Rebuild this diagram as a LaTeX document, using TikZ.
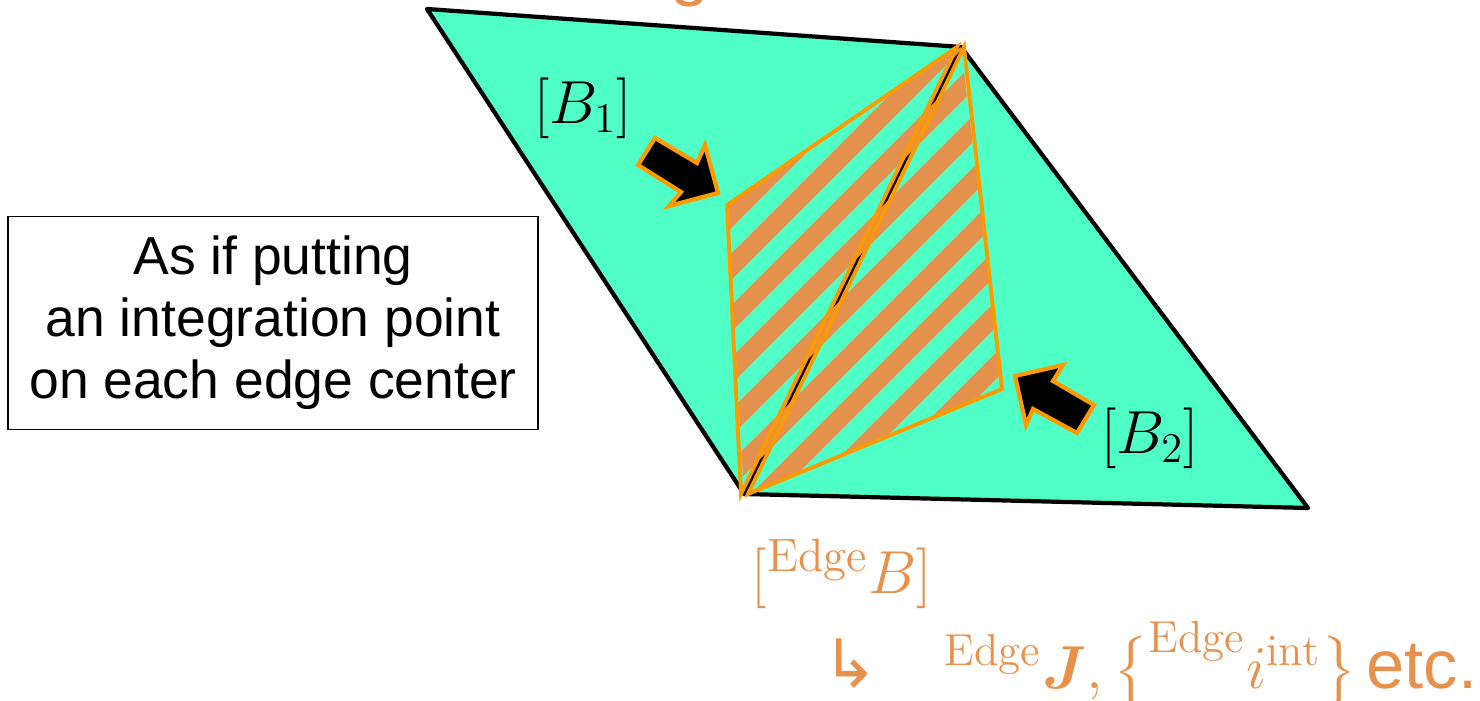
\documentclass[tikz,border=0pt]{standalone}
\usepackage{amsmath}
\usepackage{fontspec}
\newfontfamily\arialfont{Liberation Sans}
\newfontfamily\symfont{DejaVu Sans}
\usetikzlibrary{positioning,calc}
\definecolor{cellgreen}{RGB}{80,255,198}
\definecolor{lineorange}{RGB}{255,153,0}
\definecolor{hatchorange}{RGB}{227,145,76}
\definecolor{textorange}{RGB}{232,145,76}
\tikzset{
    cellline/.style={draw=black, line width=1.2pt, line join=round},
    domainline/.style={draw=lineorange, line width=1.1pt},
    hatchline/.style={draw=hatchorange, line width=5.3pt},
    blockarrow/.style={fill=black, draw=lineorange, line width=1.2pt},
    mathlabel/.style={font=\fontsize{18}{21}\selectfont, inner sep=0pt},
    notebox/.style={draw, line width=0.5pt, align=center,
        font=\arialfont\fontsize{15.2}{17.6}\selectfont,
        minimum width=5.3cm, minimum height=2.13cm}
}

\begin{document}
\begin{tikzpicture}[x=0.01cm, y=-0.01cm]
\useasboundingbox (0,0) rectangle (1480,701);
% element and its corners
\coordinate (tl) at (427,9);
\coordinate (tr) at (961,47);
\coordinate (br) at (1308,508);
\coordinate (bl) at (744,494);
\coordinate (b1) at (727,205);
\coordinate (b2) at (1002,389);
\fill[cellgreen] (tl) -- (tr) -- (br) -- (bl) -- cycle;
\draw[cellline] (tl) -- (tr) -- (br) -- (bl) -- cycle (tr) -- (bl);
% hatched edge domain
\begin{scope}
\clip (tr) -- (b1) -- (bl) -- (b2) -- cycle;
\foreach \s in {894,946,...,1414}
    \draw[hatchline] (\s,0) -- (\s-700,700);
\end{scope}
\draw[domainline] ($(tr)+(-4,0)$) -- (b1) -- ($(bl)+(-3,0)$) -- cycle;
\draw[domainline] ($(tr)+(3,0)$) -- (b2) -- ($(bl)+(4,0)$) -- cycle;
% block arrows
\draw[blockarrow] (655,138) -- (697,163) -- (705,145) -- (718,193) -- (669,206) -- (681,192) -- (638,165) -- cycle;
\draw[blockarrow] (1015,376) -- (1063,365) -- (1053,381) -- (1094,405) -- (1077,433) -- (1033,409) -- (1026,425) -- cycle;
% labels
\node[mathlabel] (lb1) at (583,108) {$[B_1]$};
\node[mathlabel] (lb2) at (1150,438) {$[B_2]$};
\node[notebox] (note) at (273,323) {As if putting\\an integration point\\on each edge center};
\node[mathlabel, text=textorange, font=\fontsize{19}{22}\selectfont] (edgeb) at (842,574) {$[{}^{\mathrm{Edge}}B]$};
\node[text=textorange, font=\symfont\fontsize{19}{22}\selectfont, inner sep=0pt] (hook) at (850,664) {↳};
\node[mathlabel, text=textorange, font=\fontsize{18.2}{22}\selectfont, anchor=base west] (edgej) at (944,688)
    {$^{\mathrm{Edge}}\boldsymbol{J},\bigl\{^{\mathrm{Edge}}i^{\mathrm{int}}\bigr\}$};
\node[text=textorange, font=\arialfont\fontsize{19.5}{24}\selectfont, anchor=base east, inner sep=0pt] (etc) at (1478,688) {etc.};
\node[text=textorange, font=\arialfont\fontsize{20}{24}\selectfont, anchor=base, inner sep=0pt] (cut) at (690,-7) {g};
\end{tikzpicture}
\end{document}
